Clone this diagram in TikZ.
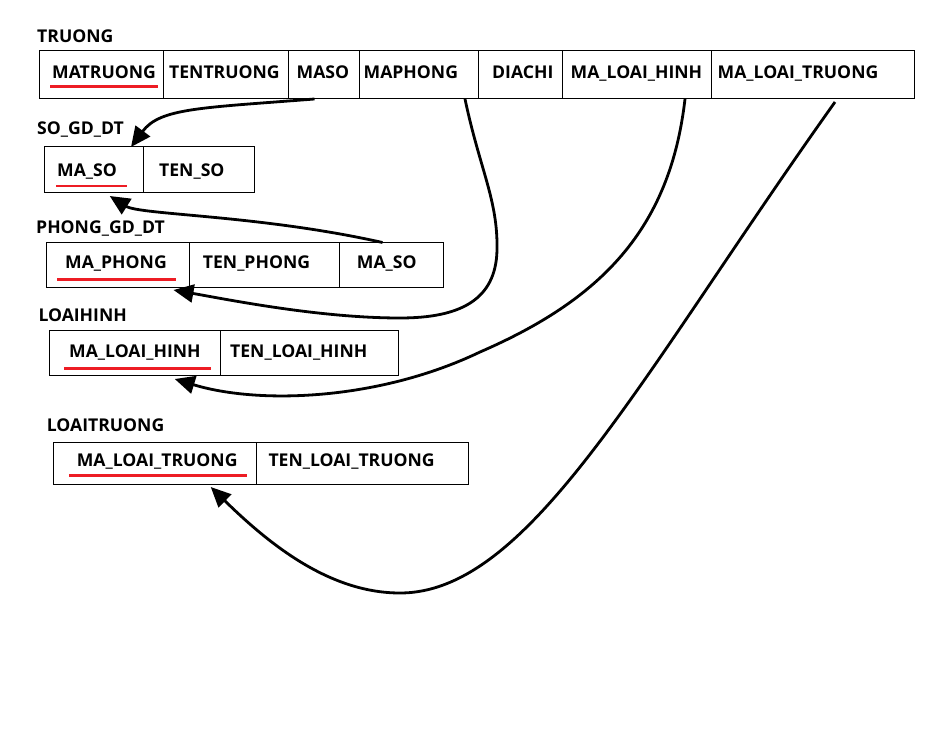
\documentclass[tikz,border=0pt]{standalone}
\usepackage{fontspec}
\setmainfont{Open Sans}
\usetikzlibrary{arrows.meta,calc}
\definecolor{keyred}{RGB}{237,28,36}
\tikzset{
  cell/.style={draw=black, line width=1pt, anchor=north west, inner sep=0pt, outer sep=0pt},
  txt/.style={anchor=base west, inner sep=0pt, font=\bfseries\fontsize{17.6}{20}\selectfont},
  keyline/.style={draw=keyred, line width=2.8pt},
  fk/.style={line width=2.8pt, -{Triangle[length=20pt,width=18pt]}}
}
\begin{document}
\begin{tikzpicture}[x=1pt,y=-1pt]
\useasboundingbox (0,0) rectangle (943,735);
% ---------- TRUONG ----------
\node[txt] (lT) at (37,43) {TRUONG};
\node[cell, minimum width=124, minimum height=48.5] (t1) at (39.5,50.5) {};
\node[cell, minimum width=125, minimum height=48.5] (t2) at (163.5,50.5) {};
\node[cell, minimum width=71, minimum height=48.5] (t3) at (288.5,50.5) {};
\node[cell, minimum width=119, minimum height=48.5] (t4) at (359.5,50.5) {};
\node[cell, minimum width=84, minimum height=48.5] (t5) at (478.5,50.5) {};
\node[cell, minimum width=149, minimum height=48.5] (t6) at (562.5,50.5) {};
\node[cell, minimum width=203, minimum height=48.5] (t7) at (711.5,50.5) {};
\node[txt] (x1) at (52,79) {MATRUONG};
\node[txt] (x2) at (169,79) {TENTRUONG};
\node[txt] (x3) at (296.5,79) {MASO};
\node[txt] (x4) at (363.5,79) {MAPHONG};
\node[txt] (x5) at (492,79) {DIACHI};
\node[txt] (x6) at (570.5,79) {MA\_LOAI\_HINH};
\node[txt] (x7) at (717.5,79) {MA\_LOAI\_TRUONG};
\draw[keyline] (50,86.5) -- (158,86.5);
% ---------- SO_GD_DT ----------
\node[txt] (lS) at (37,135) {SO\_GD\_DT};
\node[cell, minimum width=98.5, minimum height=46.5] (s1) at (44.5,146.5) {};
\node[cell, minimum width=111.5, minimum height=46.5] (s2) at (143,146.5) {};
\node[txt] (y1) at (57,177) {MA\_SO};
\node[txt] (y2) at (159,177) {TEN\_SO};
\draw[keyline] (56,186) -- (127,186);
% ---------- PHONG_GD_DT ----------
\node[txt] (lP) at (36,234) {PHONG\_GD\_DT};
\node[cell, minimum width=143, minimum height=45.5] (p1) at (46.5,242.5) {};
\node[cell, minimum width=150, minimum height=45.5] (p2) at (189.5,242.5) {};
\node[cell, minimum width=104, minimum height=45.5] (p3) at (339.5,242.5) {};
\node[txt] (z1) at (65,268.3) {MA\_PHONG};
\node[txt] (z2) at (202.7,268.3) {TEN\_PHONG};
\node[txt] (z3) at (356.7,269) {MA\_SO};
\draw[keyline] (57.3,279.3) -- (175.7,279.3);
% ---------- LOAIHINH ----------
\node[txt] (lH) at (38.3,321.7) {LOAIHINH};
\node[cell, minimum width=170.5, minimum height=45.5] (h1) at (49.5,330.5) {};
\node[cell, minimum width=178, minimum height=45.5] (h2) at (220,330.5) {};
\node[txt] (w1) at (69,357.3) {MA\_LOAI\_HINH};
\node[txt] (w2) at (230,357.3) {TEN\_LOAI\_HINH};
\draw[keyline] (64,368.3) -- (211,368.3);
% ---------- LOAITRUONG ----------
\node[txt] (lL) at (46.7,431.7) {LOAITRUONG};
\node[cell, minimum width=202.5, minimum height=41.5] (l1) at (53.5,442.5) {};
\node[cell, minimum width=212.5, minimum height=41.5] (l2) at (256,442.5) {};
\node[txt] (v1) at (76.7,466) {MA\_LOAI\_TRUONG};
\node[txt] (v2) at (268.3,466) {TEN\_LOAI\_TRUONG};
\draw[keyline] (69,475.3) -- (246.7,475.3);
% ---------- connectors ----------
\draw[fk] ($(t3.south)+(-9.5,0)$) .. controls (200,108) and (160,108) .. ($(s1.north east)+(-12,0.5)$);
\draw[fk] ($(p3.north)+(-9,0)$) .. controls (260,215) and (140,215) .. ($(s1.south)+(16,3)$);
\draw[fk] ($(t4.south)+(46,0)$) .. controls (480,170) and (498,200) .. (497,250)
  .. controls (496,300) and (460,318) .. (400,318)
  .. controls (320,318) and (230,300) .. ($(p1.south east)+(-16,2)$);
\draw[fk] ($(t6.south)+(48,0)$) .. controls (670,230) and (600,300) .. (480,352)
  .. controls (380,400) and (260,405) .. ($(h1.south)+(40,3)$);
\draw[fk] ($(t7.south)+(22,3)$) .. controls (640,376) and (530,593) .. (400,593)
  .. controls (330,593) and (270,545) .. ($(l1.south)+(56,3)$);
\end{tikzpicture}
\end{document}
